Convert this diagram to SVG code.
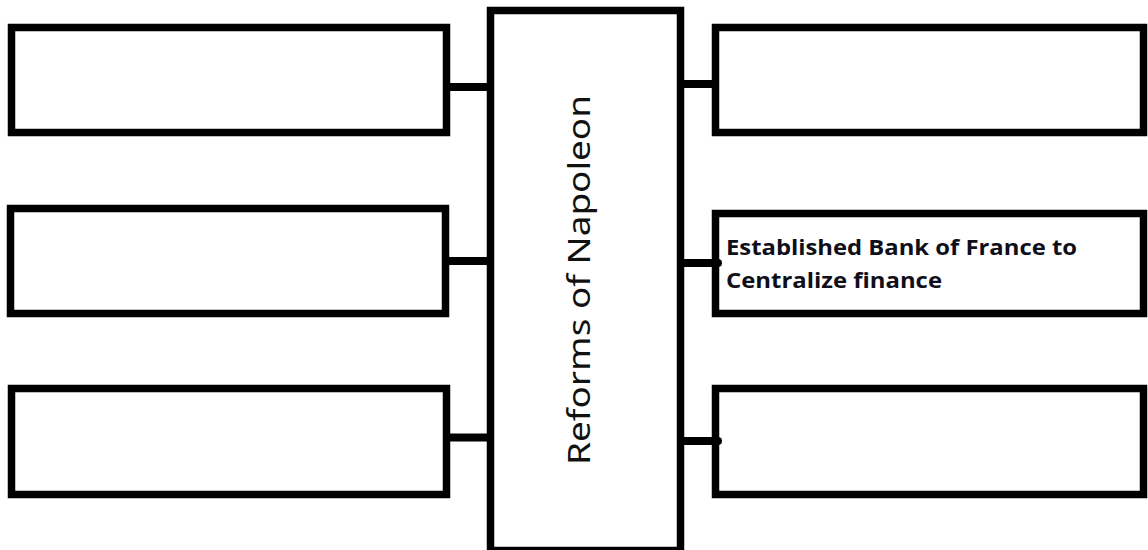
<svg xmlns="http://www.w3.org/2000/svg" width="1148" height="550" viewBox="0 0 1148 550">
<style>
.box{fill:#fff;stroke:#000;stroke-width:7.5}
.conn{stroke:#000;stroke-width:8;fill:none}
.lbl{font-family:"Open Sans","Liberation Sans",sans-serif;font-weight:bold;font-size:22px;fill:#0f0f1a}
.title{font-family:"Noto Sans","Open Sans",sans-serif;font-size:30px;fill:#111}
</style>
<rect width="1148" height="550" fill="#fff"/>
<g id="center">
<rect class="box" x="490.5" y="10.5" width="190" height="540"/>
<text class="title" transform="translate(590,465) rotate(-90)" x="0" y="0" textLength="370" lengthAdjust="spacingAndGlyphs">Reforms of Napoleon</text>
</g>
<g id="left1"><rect class="box" x="11.5" y="27.5" width="435" height="105"/></g>
<g id="left2"><rect class="box" x="10.5" y="208.5" width="435" height="105"/></g>
<g id="left3"><rect class="box" x="11.5" y="388.5" width="435" height="106"/></g>
<g id="right1"><rect class="box" x="715.5" y="27.5" width="428" height="105"/></g>
<g id="right2"><rect class="box" x="715.5" y="213.5" width="428" height="100"/>
<text class="lbl" x="726" y="255" textLength="351" lengthAdjust="spacingAndGlyphs">Established Bank of France to</text>
<text class="lbl" x="726" y="288" textLength="216" lengthAdjust="spacingAndGlyphs">Centralize finance</text>
</g>
<g id="right3"><rect class="box" x="715.5" y="388.5" width="428" height="106"/></g>
<g id="connectors">
<line class="conn" x1="446" y1="87" x2="494" y2="87"/>
<line class="conn" x1="446" y1="261" x2="490" y2="261"/>
<line class="conn" x1="446" y1="437.5" x2="490" y2="437.5"/>
<line class="conn" x1="681" y1="84" x2="716" y2="84"/>
<line class="conn" x1="681" y1="263" x2="718" y2="263" stroke-linecap="round"/>
<line class="conn" x1="681" y1="441" x2="718" y2="441" stroke-linecap="round"/>
</g>
</svg>
